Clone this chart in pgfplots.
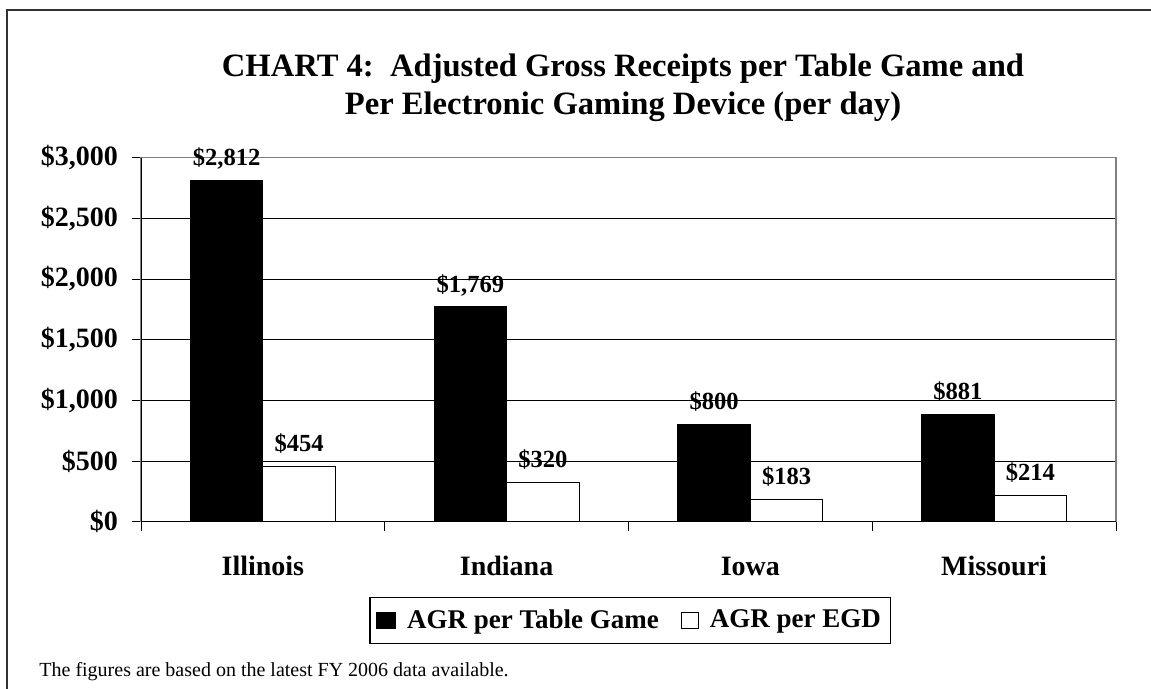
\documentclass[border=0pt]{standalone}
\usepackage{pgfplots}
\pgfplotsset{compat=1.18}
\usepackage{fontspec}
\setmainfont{Liberation Serif}
\begin{document}
\begin{tikzpicture}
\useasboundingbox (0,0) rectangle (575.5pt,344.5pt);
\draw[line width=0.85pt, black!80] (3.65pt,-2pt) -- (3.65pt,339.4pt) -- (578pt,339.4pt);
\node[anchor=base, font=\fontsize{16.3}{19}\selectfont\bfseries, inner sep=0pt] at (311.5pt,306pt) {CHART 4:\ \ Adjusted Gross Receipts per Table Game and};
\node[anchor=base, font=\fontsize{16.3}{19}\selectfont\bfseries, inner sep=0pt] at (311.5pt,287pt) {Per Electronic Gaming Device (per day)};
\node[anchor=base west, font=\fontsize{10}{12}\selectfont, inner sep=0pt] at (19.5pt,6pt) {The figures are based on the latest FY 2006 data available.};
\begin{axis}[
  at={(70.5pt,83.65pt)}, anchor=south west,
  scale only axis, width=487.5pt, height=182pt,
  xmin=0.5, xmax=4.5, ymin=0, ymax=3000,
  ybar=0pt, bar width=36.25pt,
  /pgf/number format/assume math mode=true,
  xtick={1,2,3,4}, xticklabels={Illinois,Indiana,Iowa,Missouri},
  minor xtick={0.5,1.5,2.5,3.5,4.5},
  ytick={0,500,...,3000},
  xtick pos=left, ytick pos=left,
  tick align=outside, major tick length=4.5pt, minor tick length=4.5pt,
  major x tick style={draw=none},
  minor x tick style={draw=black, line width=0.5pt},
  major y tick style={draw=black, line width=0.5pt},
  yticklabel={\$\pgfmathprintnumber[fixed,precision=0,1000 sep={,}]{\tick}},
  yticklabel style={font=\fontsize{14}{16}\selectfont\bfseries, anchor=east, xshift=-3.5pt},
  xticklabel style={font=\fontsize{14}{16}\selectfont\bfseries, anchor=base, yshift=-22.5pt},
  ymajorgrids, major grid style={draw=black, line width=0.5pt},
  axis line style={draw=gray, line width=0.6pt},
  nodes near coords={\$\pgfmathprintnumber[fixed,precision=0,1000 sep={,}]{\pgfplotspointmeta}},
  nodes near coords style={font=\fontsize{12.3}{14}\selectfont\bfseries, anchor=base, yshift=7.5pt, text=black},
  legend columns=2,
  legend style={at={(0.502,-0.2714)}, anchor=center, draw=black, line width=0.6pt,
    font=\fontsize{13.5}{16}\selectfont\bfseries, inner xsep=3pt, inner ysep=4pt,
    /tikz/every odd column/.append style={column sep=3.5pt},
    /tikz/every even column/.append style={column sep=9pt}},
]
\draw[black, line width=0.6pt] (rel axis cs:0,1) -- (rel axis cs:0,0) -- (rel axis cs:1,0);
\addplot[fill=black, draw=black, line width=0.6pt,
  legend image code/.code={\draw[fill=black,draw=black,line width=0.5pt] (0pt,-4pt) rectangle (9.5pt,4pt);}]
  coordinates {(1,2812) (2,1769) (3,800) (4,881)};
\addplot[fill=white, draw=black, line width=0.6pt,
  legend image code/.code={\draw[fill=white,draw=black,line width=0.5pt] (0pt,-4pt) rectangle (8.5pt,4pt);}]
  coordinates {(1,454) (2,320) (3,183) (4,214)};
\legend{AGR per Table Game, AGR per EGD}
\end{axis}
\end{tikzpicture}
\end{document}
